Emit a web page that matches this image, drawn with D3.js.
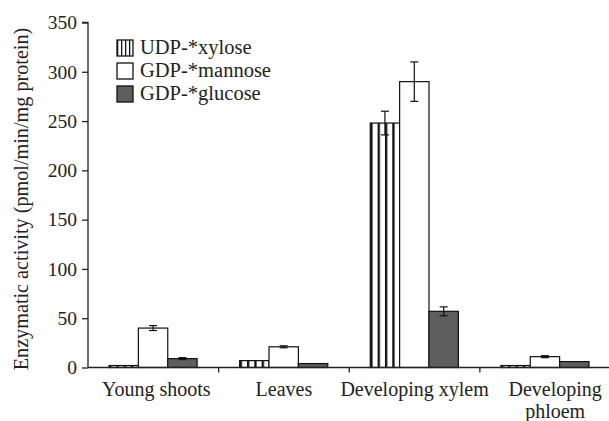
<!DOCTYPE html>
<html>
<head>
<meta charset="utf-8">
<script src="https://cdn.jsdelivr.net/npm/d3@7"></script>
<style>
  body { margin: 0; background: white; }
  text { font-family: "Liberation Serif", "Times New Roman", serif; fill: #222; }
</style>
</head>
<body>
<svg class="chart" width="609" height="421"></svg>
<script>
// DATA
const categories = ["Young shoots", "Leaves", "Developing xylem", "Developing phloem"];
const series = ["UDP-*xylose", "GDP-*mannose", "GDP-*glucose"];
const xyloseVals = [2, 7, 248, 2];
const xyloseErr = [0, 0, 12, 0];
const mannoseVals = [40, 21, 290, 11];
const mannoseErr = [2.5, 1, 20, 1];
const glucoseVals = [9, 4, 57, 6];
const glucoseErr = [1, 0, 4.5, 0];
const yTicks = [0, 50, 100, 150, 200, 250, 300, 350];

const svg = d3.select("svg.chart");

// stripes for the xylose bars
const defs = svg.append("defs");
const pat = defs.append("pattern")
  .attr("id", "stripes")
  .attr("patternUnits", "objectBoundingBox")
  .attr("patternContentUnits", "objectBoundingBox")
  .attr("width", 0.25)
  .attr("height", 1);
pat.append("rect").attr("width", 0.25).attr("height", 1).attr("fill", "white");
pat.append("rect").attr("width", 0.08).attr("height", 1).attr("fill", "#111");

const fills = ["url(#stripes)", "white", "#5e5e5e"];

const plotLeft = 88, plotRight = 610.5, plotTop = 22.5, plotBottom = 367.5;

const y = d3.scaleLinear().domain([0, 350]).range([plotBottom, plotTop]);
const x0 = d3.scaleBand().domain(categories).range([plotLeft, plotRight]);
const x1 = d3.scaleBand().domain(series).range([21, x0.bandwidth() - 21.5]);

// rows of data
const rows = [];
categories.forEach((c, i) => {
  rows.push({cat: c, s: series[0], v: xyloseVals[i], e: xyloseErr[i]});
  rows.push({cat: c, s: series[1], v: mannoseVals[i], e: mannoseErr[i]});
  rows.push({cat: c, s: series[2], v: glucoseVals[i], e: glucoseErr[i]});
});

// bars
svg.append("g").selectAll("rect")
  .data(rows)
  .join("rect")
  .attr("x", d => x0(d.cat) + x1(d.s))
  .attr("y", d => y(d.v))
  .attr("width", x1.bandwidth())
  .attr("height", d => y(0) - y(d.v))
  .attr("fill", d => fills[series.indexOf(d.s)])
  .attr("stroke", "#111")
  .attr("stroke-width", 1.2);

// error bars
const err = svg.append("g").selectAll("g")
  .data(rows.filter(d => d.e > 0))
  .join("g")
  .attr("stroke", "#111")
  .attr("stroke-width", 1.2);
err.append("line")
  .attr("x1", d => x0(d.cat) + x1(d.s) + x1.bandwidth() / 2)
  .attr("x2", d => x0(d.cat) + x1(d.s) + x1.bandwidth() / 2)
  .attr("y1", d => y(d.v + d.e))
  .attr("y2", d => y(d.v - d.e));
[1, -1].forEach(sign => {
  err.append("line")
    .attr("x1", d => x0(d.cat) + x1(d.s) + x1.bandwidth() / 2 - 4)
    .attr("x2", d => x0(d.cat) + x1(d.s) + x1.bandwidth() / 2 + 4)
    .attr("y1", d => y(d.v + sign * d.e))
    .attr("y2", d => y(d.v + sign * d.e));
});

// y axis
const yAxis = svg.append("g")
  .attr("transform", `translate(${plotLeft},0)`)
  .call(d3.axisLeft(y).tickValues(yTicks).tickSize(6).tickPadding(5));
yAxis.select(".domain").attr("stroke", "#222").attr("stroke-width", 1.3).attr("d", `M-6,${plotTop}H0V${plotBottom}`);
yAxis.selectAll(".tick line").attr("stroke", "#222").attr("stroke-width", 1.3);
yAxis.selectAll(".tick text").style("font-size", "19.5px").attr("fill", "#222");

// x axis line with ticks between groups
const xg = svg.append("g");
xg.append("line")
  .attr("x1", plotLeft).attr("x2", plotRight)
  .attr("y1", plotBottom).attr("y2", plotBottom)
  .attr("stroke", "#222").attr("stroke-width", 1.3);
xg.selectAll(".sep")
  .data(categories.slice(1))
  .join("line")
  .attr("x1", d => x0(d)).attr("x2", d => x0(d))
  .attr("y1", plotBottom).attr("y2", plotBottom + 5)
  .attr("stroke", "#222").attr("stroke-width", 1.3);

// label text: the last one is wrapped and sits a bit to the right
const catLines = {"Developing phloem": ["Developing", "phloem"]};
const catShift = {"Young shoots": 3, "Developing phloem": 10};
xg.selectAll(".cat")
  .data(categories)
  .join("text")
  .attr("class", "cat")
  .attr("text-anchor", "middle")
  .style("font-size", "20px")
  .each(function (d) {
    const lines = catLines[d] || [d];
    d3.select(this).selectAll("tspan")
      .data(lines)
      .join("tspan")
      .attr("x", x0(d) + x0.bandwidth() / 2 + (catShift[d] || 0))
      .attr("y", (l, i) => 396 + i * 22)
      .text(l => l);
  });

// y label
svg.append("text")
  .attr("transform", `translate(28,${(plotTop + plotBottom) / 2 + 4}) rotate(-90)`)
  .attr("text-anchor", "middle")
  .style("font-size", "20.2px")
  .text("Enzymatic activity (pmol/min/mg protein)");

// legend
const legend = svg.append("g").attr("transform", "translate(117,40)");
const item = legend.selectAll("g")
  .data(series)
  .join("g")
  .attr("transform", (d, i) => `translate(0,${i * 23})`);
item.append("rect")
  .attr("width", 16).attr("height", 16)
  .attr("fill", (d, i) => fills[i])
  .attr("stroke", "#111").attr("stroke-width", 1.3);
item.append("text")
  .attr("x", 23).attr("y", 14)
  .style("font-size", "20.5px")
  .text(d => d);
</script>
</body>
</html>
